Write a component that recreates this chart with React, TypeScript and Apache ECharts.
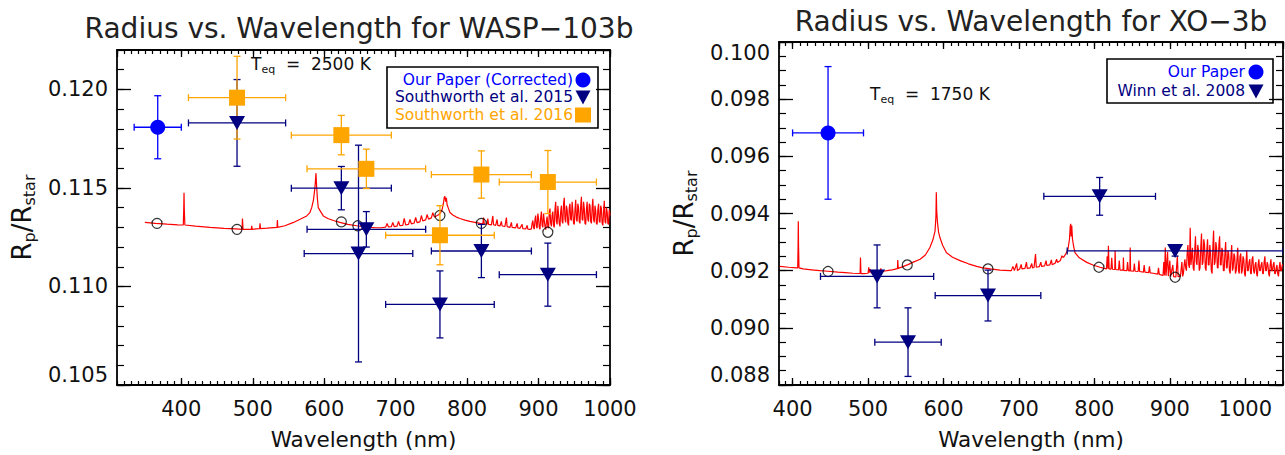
import React, { useEffect, useRef } from "react";
import * as echarts from "echarts";

const FONT = "DejaVu Sans";
const BLUE = "#0000ff";
const NAVY = "#000080";
const ORANGE = "#ffa500";
const RED = "#ff0000";

// ---------- WASP-103b : [wavelength nm, Rp/Rstar, wavelength half-width, Rp/Rstar error]
const waspOurPaper = [[367, 0.11808, 33, 0.0016]];
const waspSouthworth2015 = [
  [478, 0.1183, 68, 0.0022],
  [624, 0.11499, 70, 0.0011],
  [648, 0.11167, 76, 0.0055],
  [659, 0.1129, 83, 0.0009],
  [762, 0.10909, 76, 0.0017],
  [820, 0.1118, 70, 0.00135],
  [913, 0.1106, 68, 0.0016],
];
const waspSouthworth2016 = [
  [478, 0.11958, 68, 0.0021],
  [624, 0.11768, 70, 0.001],
  [659, 0.11597, 83, 0.001],
  [762, 0.1126, 76, 0.0015],
  [820, 0.11568, 70, 0.0012],
  [913, 0.1153, 68, 0.0016],
];
const waspModelBins = [
  [366, 0.1132], [478, 0.1129], [624, 0.11328], [647, 0.11308],
  [762, 0.1136], [820, 0.1132], [913, 0.11275],
];
const waspModel = [
  [349, 0.11325], [364, 0.1132], [380, 0.11316], [395, 0.11313], [402.8, 0.11312], [403.4, 0.1139],
  [403.8, 0.11475], [404.2, 0.1139], [405, 0.11312], [420, 0.11306], [440, 0.113], [460, 0.11295],
  [476, 0.11292], [485, 0.1129], [485.6, 0.11345], [486.4, 0.1129], [493, 0.1129], [498, 0.1129],
  [498.6, 0.11308], [499.2, 0.1129], [505, 0.11292], [509.6, 0.11293], [510.2, 0.1132], [510.8, 0.11294],
  [520, 0.11296], [534, 0.113], [534.5, 0.11337], [535, 0.113], [545, 0.11308], [557, 0.11325],
  [567, 0.11342], [575.5, 0.11358], [580, 0.11375], [582.5, 0.114], [585, 0.1144], [587, 0.115],
  [588.5, 0.11575], [589.5, 0.115], [590.5, 0.11445], [591.7, 0.114], [595, 0.1138], [598.8, 0.11358],
  [605, 0.11345], [613, 0.11335], [622, 0.11325], [633, 0.11315], [645.5, 0.11308], [655, 0.11303],
  [664, 0.113], [672, 0.11298], [680, 0.11298], [686, 0.11301], [688, 0.1132], [690, 0.11302],
  [694, 0.11303], [696, 0.11325], [698, 0.11304], [702, 0.11306], [704, 0.1133], [706, 0.11308],
  [710, 0.1131], [712, 0.11345], [714, 0.11312], [718, 0.11315], [720, 0.1134], [722, 0.11318],
  [726, 0.11322], [728, 0.1135], [730, 0.11324], [734, 0.11328], [736, 0.1136], [738, 0.11333],
  [742, 0.11338], [744, 0.11365], [746, 0.11342], [750, 0.11348], [752, 0.11375], [754, 0.11353],
  [757, 0.11358], [760, 0.11364], [763, 0.11375], [765, 0.1139], [767, 0.11425], [768, 0.11452],
  [769, 0.11458], [770, 0.1143], [771, 0.1145], [772, 0.11415], [774, 0.11395], [776, 0.11375],
  [780, 0.11363], [785, 0.11352], [790, 0.11345], [797, 0.11337], [804, 0.1133], [811, 0.11325],
  [818, 0.1132], [822, 0.11318], [823, 0.1135], [824, 0.11318], [828, 0.11316], [829, 0.11345],
  [830, 0.11315], [834, 0.11313], [836, 0.11358], [837, 0.11313], [840, 0.1131], [842, 0.1134],
  [843, 0.1131], [846, 0.11307], [848, 0.1133], [849, 0.11307], [853, 0.11305], [855, 0.1135],
  [856, 0.11304], [860, 0.113], [862, 0.11325], [863, 0.113], [868, 0.11297], [870, 0.1132],
  [871, 0.11297], [874, 0.11295], [877, 0.11315], [878, 0.11294], [882, 0.11292], [884, 0.1131],
  [885, 0.11291], [888, 0.1129], [890, 0.11292], [891, 0.1132], [892, 0.11335], [893, 0.113], [894, 0.1129], [895, 0.1134], [896, 0.1136],
  [897, 0.11305], [898, 0.11295], [899, 0.1137], [900, 0.11345], [901, 0.11302], [902, 0.1129], [903, 0.1135], [904, 0.1138], [905, 0.1131], [906, 0.113], [907, 0.1137], [908, 0.11335],
  [909, 0.11305], [910, 0.11288], [911, 0.1133], [912, 0.11355], [913, 0.11302], [914, 0.11295], [915, 0.1137], [916, 0.11395], [917, 0.1132], [918, 0.11305], [919, 0.1136], [920, 0.1138],
  [921, 0.1131], [922, 0.113], [923, 0.1139], [924, 0.1143], [925, 0.1133], [926, 0.11315], [927, 0.1141], [928, 0.11365], [929, 0.1132], [930, 0.11305], [931, 0.1138], [932, 0.1141],
  [933, 0.1133], [934, 0.1132], [935, 0.1142], [936, 0.1145], [937, 0.1134], [938, 0.11325], [939, 0.1141], [940, 0.1139], [941, 0.1132], [942, 0.1131], [943, 0.1140], [944, 0.1142],
  [945, 0.1134], [946, 0.11335], [947, 0.1143], [948, 0.11385], [949, 0.1132], [950, 0.11315], [951, 0.1139], [952, 0.1144], [953, 0.1134], [954, 0.1133], [955, 0.1142], [956, 0.114],
  [957, 0.1133], [958, 0.1132], [959, 0.1141], [960, 0.11455], [961, 0.1134], [962, 0.11335], [963, 0.1143], [964, 0.11395], [965, 0.1132], [966, 0.11315], [967, 0.1139], [968, 0.1143],
  [969, 0.1134], [970, 0.1133], [971, 0.1142], [972, 0.1141], [973, 0.1133], [974, 0.1132], [975, 0.1140], [976, 0.11445], [977, 0.1134], [978, 0.11325], [979, 0.1141], [980, 0.11385],
  [981, 0.1132], [982, 0.11315], [983, 0.1139], [984, 0.1142], [985, 0.1133], [986, 0.11325], [987, 0.1141], [988, 0.11395], [989, 0.1132], [990, 0.1131], [991, 0.1138], [992, 0.11435],
  [993, 0.1133], [994, 0.1132], [995, 0.1140], [996, 0.1138], [997, 0.1132], [998, 0.11315], [999, 0.1139], [1000, 0.1136],
];

// ---------- XO-3b
const xoOurPaper = [[447, 0.09682, 47, 0.00232]];
const xoWinn2008 = [
  [512, 0.0918, 75, 0.0011],
  [553, 0.0895, 44, 0.0012],
  [659, 0.09113, 70, 0.00089],
  [807, 0.0946, 74, 0.00066],
  [907, 0.09269, 143, 0.00018],
];
const xoModelBins = [[447, 0.09197], [552, 0.0922], [659, 0.09206], [806, 0.09212], [907, 0.09177]];
const xoModel = [
  [383, 0.09215], [395, 0.09212], [405, 0.0921], [406.8, 0.0921], [407.3, 0.0929], [407.6, 0.09373],
  [407.9, 0.0929], [408.5, 0.0921], [414, 0.09206], [425, 0.09203], [436, 0.092], [447, 0.09198],
  [460, 0.09195], [470, 0.09193], [480, 0.09191], [489.5, 0.0919], [490, 0.09246], [490.6, 0.0919],
  [496, 0.0919], [500, 0.09191], [501, 0.09212], [501.6, 0.09193], [503, 0.09205], [504, 0.09192],
  [510, 0.09194], [516, 0.09196], [517, 0.09208], [517.6, 0.09197], [525, 0.092], [532, 0.09203],
  [539, 0.09207], [539.4, 0.09237], [540, 0.09208], [546, 0.09214], [553, 0.09221], [560, 0.0923],
  [569, 0.0924], [576, 0.09255], [582, 0.09281], [586, 0.09308], [588.8, 0.09338], [590, 0.0939],
  [590.5, 0.09474], [591, 0.0941], [592, 0.0937], [593.5, 0.09335], [595.4, 0.09315], [599, 0.09288],
  [604, 0.09263], [612, 0.09247], [622, 0.09235], [633, 0.09224], [644, 0.09215], [652, 0.0921],
  [662, 0.09206], [675, 0.09202], [688, 0.092], [690, 0.092], [692, 0.09215], [694, 0.092],
  [697, 0.09225], [698, 0.09201], [701, 0.09206], [703, 0.09222], [704, 0.09206], [708, 0.09208],
  [710, 0.0923], [711, 0.09208], [715, 0.0921], [717, 0.09225], [718, 0.0921], [720, 0.09211],
  [722, 0.09258], [723, 0.09212], [727, 0.09214], [729, 0.0923], [730, 0.09215], [734, 0.09217],
  [736, 0.09235], [737, 0.09218], [741, 0.0922], [743, 0.09238], [744, 0.09221], [748, 0.09226],
  [750, 0.0924], [751, 0.09229], [755, 0.09236], [757, 0.09252], [759, 0.09246], [762, 0.09258],
  [765, 0.09275], [767, 0.0931], [768, 0.09355], [768.6, 0.09364], [769.2, 0.0932], [770, 0.09358],
  [771, 0.0931], [772.5, 0.09285], [774.3, 0.09263], [780, 0.09245], [790, 0.09229], [798, 0.0922],
  [807.5, 0.09212], [812, 0.09209], [816, 0.09206], [817, 0.0925], [818, 0.09207], [818.6, 0.09287],
  [819.5, 0.09206], [822, 0.09205], [823, 0.09245], [824, 0.09205], [827, 0.09204], [827.5, 0.0927],
  [828.2, 0.09204], [832, 0.09203], [833, 0.09235], [834, 0.09202], [838, 0.09202], [838.5, 0.09246],
  [839, 0.09201], [843, 0.092], [844, 0.0923], [845, 0.092], [847, 0.09199], [847.5, 0.09281],
  [848, 0.09199], [852, 0.09198], [853, 0.09225], [854, 0.09198], [858, 0.09197], [859, 0.09235],
  [860, 0.09197], [865, 0.09195], [866, 0.0922], [867, 0.09195], [872, 0.09193], [873, 0.09215],
  [874, 0.09192], [878, 0.09191], [884, 0.09188], [885, 0.0921], [886, 0.09187], [891, 0.09183],
  [892, 0.0923], [893, 0.09183], [894, 0.09281], [895, 0.09182], [897, 0.09265], [898, 0.09181],
  [900, 0.09235], [901, 0.0918], [904, 0.0922], [905, 0.09179], [908, 0.09178], [910, 0.0925],
  [911, 0.09179], [914, 0.0918], [916, 0.0923], [917, 0.0918], [918, 0.0919], [919, 0.0922], [920, 0.0924],
  [921, 0.0921], [922, 0.092], [923, 0.0926], [924, 0.0929], [925, 0.0922], [926, 0.0921], [927, 0.0935], [928, 0.0922], [929, 0.0925], [930, 0.0928],
  [931, 0.0921], [932, 0.092], [933, 0.0927], [934, 0.0932], [935, 0.0923], [936, 0.0922], [937, 0.0929], [938, 0.0927], [939, 0.0920], [940, 0.0921], [941, 0.0928], [942, 0.0933],
  [943, 0.0922], [944, 0.0923], [945, 0.0931], [946, 0.0929], [947, 0.0921], [948, 0.092], [949, 0.0927], [950, 0.0931], [951, 0.0922], [952, 0.0922], [953, 0.0929], [954, 0.0926],
  [955, 0.0920], [956, 0.0919], [957, 0.0928], [958, 0.0934], [959, 0.0922], [960, 0.0923], [961, 0.0930], [962, 0.0928], [963, 0.0921], [964, 0.0921], [965, 0.0929], [966, 0.0932],
  [967, 0.0922], [968, 0.0922], [969, 0.0928], [970, 0.0927], [971, 0.0920], [972, 0.092], [973, 0.0926], [974, 0.093], [975, 0.0921], [976, 0.0921], [977, 0.0927], [978, 0.0926],
  [979, 0.0920], [980, 0.0919], [981, 0.0925], [982, 0.0929], [983, 0.0920], [984, 0.0921], [985, 0.0926], [986, 0.0925], [987, 0.0919], [988, 0.092], [989, 0.0924], [990, 0.0928],
  [991, 0.0920], [992, 0.0919], [993, 0.0925], [994, 0.0926], [995, 0.0919], [996, 0.092], [997, 0.0925], [998, 0.0924], [999, 0.0919], [1000, 0.0918], [1001, 0.0923], [1002, 0.0927],
  [1003, 0.0920], [1004, 0.092], [1005, 0.0923], [1006, 0.0924], [1007, 0.0919], [1008, 0.0919], [1009, 0.0924], [1010, 0.0925], [1011, 0.0920], [1012, 0.0919], [1013, 0.0922], [1014, 0.0923],
  [1015, 0.0919], [1016, 0.0918], [1017, 0.0922], [1018, 0.0924], [1019, 0.0920], [1020, 0.092], [1021, 0.0922], [1022, 0.0923], [1023, 0.0919], [1024, 0.0919], [1025, 0.0923], [1026, 0.0925],
  [1027, 0.0920], [1028, 0.092], [1029, 0.0923], [1030, 0.0922], [1031, 0.0919], [1032, 0.0918], [1033, 0.0922], [1034, 0.0924], [1035, 0.0920], [1036, 0.092], [1037, 0.0922], [1038, 0.0923],
  [1039, 0.0919], [1040, 0.0919], [1041, 0.0921], [1042, 0.0922], [1043, 0.0919], [1044, 0.0918], [1045, 0.0921], [1046, 0.0923], [1047, 0.0920], [1048, 0.092], [1049, 0.0922], [1050, 0.0922],
];

const TITLE_LEFT = "Radius vs. Wavelength for WASP\u2212103b";
const TITLE_RIGHT = "Radius vs. Wavelength for XO\u22123b";
const TEQ_LEFT = "2500 K";
const TEQ_RIGHT = "1750 K";
const LEGEND_LEFT = ["Our Paper (Corrected)", "Southworth et al. 2015", "Southworth et al. 2016"];
const LEGEND_RIGHT = ["Our Paper", "Winn et al. 2008"];

const AXIS_COLOR = "#000";
const TEXT_COLOR = "#111";

function xAxes(grid: number, min: number, max: number, showMin: boolean, showMax: boolean) {
  const base = { type: "value", gridIndex: grid, min, max, splitLine: { show: false } };
  const major = (position: string, labels: boolean) => ({
    ...base,
    position,
    minInterval: 100,
    maxInterval: 100,
    splitNumber: 7,
    axisLine: { show: true, onZero: false, lineStyle: { color: AXIS_COLOR, width: 1.8 } },
    axisTick: { show: true, inside: true, length: 7, lineStyle: { color: AXIS_COLOR, width: 1.3 } },
    axisLabel: {
      show: labels, margin: 13, fontFamily: FONT, fontSize: 21, color: TEXT_COLOR,
      showMinLabel: showMin, showMaxLabel: showMax,
      formatter: (v: number) => String(Math.round(v)),
    },
    name: labels ? "Wavelength (nm)" : "",
    nameLocation: "middle",
    nameGap: 43,
    nameTextStyle: { fontFamily: FONT, fontSize: 21.5, color: TEXT_COLOR },
  });
  const minor = (position: string) => ({
    ...base,
    position,
    minInterval: 10,
    maxInterval: 10,
    axisLine: { show: false, onZero: false },
    axisTick: { show: true, inside: true, length: 4, lineStyle: { color: AXIS_COLOR, width: 1.2 } },
    axisLabel: { show: false },
  });
  return [major("bottom", true), minor("bottom"), major("top", false), minor("top")];
}

function yAxes(grid: number, min: number, max: number, majorStep: number, minorStep: number, showMax: boolean) {
  const base = { type: "value", gridIndex: grid, min, max, splitLine: { show: false } };
  const major = (position: string, labels: boolean) => ({
    ...base,
    position,
    minInterval: majorStep,
    maxInterval: majorStep,
    axisLine: { show: true, onZero: false, lineStyle: { color: AXIS_COLOR, width: 1.8 } },
    axisTick: { show: true, inside: true, length: 14, lineStyle: { color: AXIS_COLOR, width: 1.3 } },
    axisLabel: {
      show: labels, margin: 9, fontFamily: FONT, fontSize: 21, color: TEXT_COLOR,
      showMinLabel: true, showMaxLabel: showMax,
      verticalAlignMinLabel: "bottom", verticalAlignMaxLabel: "top",
      formatter: (v: number) => v.toFixed(3),
    },
    name: labels ? "{r|R}{s|p}{r|/R}{s|star}" : "",
    nameLocation: "middle",
    nameRotate: 90,
    nameGap: 80,
    nameTextStyle: {
      color: TEXT_COLOR,
      rich: {
        r: { fontFamily: FONT, fontSize: 26, lineHeight: 30, color: TEXT_COLOR },
        s: { fontFamily: FONT, fontSize: 16, lineHeight: 16, verticalAlign: "bottom", color: TEXT_COLOR },
      },
    },
  });
  const minor = (position: string) => ({
    ...base,
    position,
    minInterval: minorStep,
    maxInterval: minorStep,
    axisLine: { show: false, onZero: false },
    axisTick: { show: true, inside: true, length: 7, lineStyle: { color: AXIS_COLOR, width: 1.2 } },
    axisLabel: { show: false },
  });
  return [major("left", true), minor("left"), major("right", false), minor("right")];
}

function errorBars(data: number[][], color: string, xi: number, yi: number) {
  return {
    type: "custom",
    xAxisIndex: xi,
    yAxisIndex: yi,
    clip: true,
    z: 3,
    data,
    encode: { x: 0, y: 1 },
    renderItem: (_p: any, api: any) => {
      const x = api.value(0), y = api.value(1), xe = api.value(2), ye = api.value(3);
      const c = api.coord([x, y]);
      const l = api.coord([x - xe, y]);
      const r = api.coord([x + xe, y]);
      const t = api.coord([x, y + ye]);
      const b = api.coord([x, y - ye]);
      const cap = 3.5;
      const style = { stroke: color, lineWidth: 1.3, fill: null };
      const ln = (x1: number, y1: number, x2: number, y2: number) => ({ type: "line", shape: { x1, y1, x2, y2 }, style });
      return {
        type: "group",
        children: [
          ln(l[0], c[1], r[0], c[1]),
          ln(l[0], c[1] - cap, l[0], c[1] + cap),
          ln(r[0], c[1] - cap, r[0], c[1] + cap),
          ln(c[0], t[1], c[0], b[1]),
          ln(c[0] - cap, t[1], c[0] + cap, t[1]),
          ln(c[0] - cap, b[1], c[0] + cap, b[1]),
        ],
      };
    },
  };
}

function markers(data: number[][], color: string, symbol: string, size: any, rotate: number, xi: number, yi: number) {
  return {
    type: "scatter",
    xAxisIndex: xi,
    yAxisIndex: yi,
    z: 4,
    symbol,
    symbolSize: size,
    symbolRotate: rotate,
    itemStyle: { color, opacity: 1 },
    data: data.map((d) => [d[0], d[1]]),
  };
}

function modelSeries(line: number[][], bins: number[][], xi: number, yi: number) {
  return [
    {
      type: "line",
      xAxisIndex: xi,
      yAxisIndex: yi,
      data: line,
      showSymbol: false,
      symbol: "none",
      clip: true,
      z: 2,
      lineStyle: { color: RED, width: 1.2 },
    },
    {
      type: "scatter",
      xAxisIndex: xi,
      yAxisIndex: yi,
      z: 2,
      symbol: "circle",
      symbolSize: 10,
      itemStyle: { color: "rgba(0,0,0,0)", borderColor: "#000", borderWidth: 1.2 },
      data: bins,
    },
  ];
}

function legendBox(x: number, y: number, w: number, h: number, textRight: number, symX: number,
  items: { text: string; color: string; sym: string; cy: number }[]) {
  const children: any[] = [
    { type: "rect", shape: { x, y, width: w, height: h }, style: { fill: "#fff", stroke: "#000", lineWidth: 1.6 } },
  ];
  items.forEach((it) => {
    children.push({
      type: "text", x: textRight, y: it.cy,
      style: { text: it.text, fill: it.color, fontFamily: FONT, fontSize: 15.5, align: "right", verticalAlign: "middle" },
    });
    if (it.sym === "circle") {
      children.push({ type: "circle", shape: { cx: symX, cy: it.cy, r: 7.5 }, style: { fill: it.color } });
    } else if (it.sym === "tri") {
      children.push({
        type: "polygon",
        shape: { points: [[symX - 7.5, it.cy - 6.5], [symX + 7.5, it.cy - 6.5], [symX, it.cy + 7.5]] },
        style: { fill: it.color },
      });
    } else {
      children.push({ type: "rect", shape: { x: symX - 8, y: it.cy - 7.5, width: 16, height: 15 }, style: { fill: it.color } });
    }
  });
  return { type: "group", z: 10, children };
}

function teqText(x: number, y: number, value: string) {
  return {
    type: "text", x, y, z: 10,
    style: {
      text: `{m|T}{s|eq}{m|  =  ${value}}`,
      align: "left",
      verticalAlign: "middle",
      rich: {
        m: { fontFamily: FONT, fontSize: 17, lineHeight: 21, fill: TEXT_COLOR, color: TEXT_COLOR },
        s: { fontFamily: FONT, fontSize: 11, lineHeight: 11, verticalAlign: "bottom", fill: TEXT_COLOR, color: TEXT_COLOR },
      },
    },
  };
}

export default function App() {
  const ref = useRef<HTMLDivElement>(null);
  useEffect(() => {
    if (!ref.current) return;
    const chart = echarts.init(ref.current, null, { renderer: "svg" });
    const option: any = {
      animation: false,
      backgroundColor: "#fff",
      grid: [
        { left: 117, top: 50, width: 493, height: 339, containLabel: false },
        { left: 779, top: 42, width: 504, height: 347, containLabel: false },
      ],
      xAxis: [...xAxes(0, 310, 1000, false, true), ...xAxes(1, 382, 1050, false, false)],
      yAxis: [
        ...yAxes(0, 0.105, 0.122, 0.005, 0.001, false),
        ...yAxes(1, 0.088, 0.1, 0.002, 0.0005, true),
      ],
      series: [
        ...modelSeries(waspModel, waspModelBins, 0, 0),
        errorBars(waspOurPaper, BLUE, 0, 0),
        markers(waspOurPaper, BLUE, "circle", 15, 0, 0, 0),
        errorBars(waspSouthworth2015, NAVY, 0, 0),
        markers(waspSouthworth2015, NAVY, "triangle", [16, 14], 180, 0, 0),
        errorBars(waspSouthworth2016, ORANGE, 0, 0),
        markers(waspSouthworth2016, ORANGE, "rect", 16, 0, 0, 0),
        ...modelSeries(xoModel, xoModelBins, 4, 4),
        errorBars(xoOurPaper, BLUE, 4, 4),
        markers(xoOurPaper, BLUE, "circle", 15, 0, 4, 4),
        errorBars(xoWinn2008, NAVY, 4, 4),
        markers(xoWinn2008, NAVY, "triangle", [16, 14], 180, 4, 4),
      ],
      graphic: [
        {
          type: "text", x: 359, y: 28, z: 10,
          style: { text: TITLE_LEFT, fontFamily: FONT, fontSize: 28, fill: "#222", align: "center", verticalAlign: "middle" },
        },
        {
          type: "text", x: 1031, y: 21, z: 10,
          style: { text: TITLE_RIGHT, fontFamily: FONT, fontSize: 28, fill: "#222", align: "center", verticalAlign: "middle" },
        },
        teqText(251, 64, TEQ_LEFT),
        teqText(870, 94, TEQ_RIGHT),
        legendBox(387, 67, 211, 61, 573, 583, [
          { text: LEGEND_LEFT[0], color: BLUE, sym: "circle", cy: 80 },
          { text: LEGEND_LEFT[1], color: NAVY, sym: "tri", cy: 97 },
          { text: LEGEND_LEFT[2], color: ORANGE, sym: "rect", cy: 115 },
        ]),
        legendBox(1107, 59, 166, 44, 1245, 1256, [
          { text: LEGEND_RIGHT[0], color: BLUE, sym: "circle", cy: 72 },
          { text: LEGEND_RIGHT[1], color: NAVY, sym: "tri", cy: 91 },
        ]),
      ],
    };
    chart.setOption(option);
    return () => chart.dispose();
  }, []);
  return (
    <div
      ref={ref}
      style={{ position: "fixed", left: 0, top: 0, width: 1285, height: 455, background: "#fff" }}
    />
  );
}
